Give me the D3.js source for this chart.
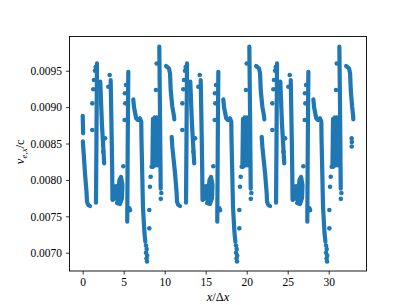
<!DOCTYPE html>
<html>
<head>
<meta charset="utf-8">
<script src="https://cdn.jsdelivr.net/npm/d3@7"></script>
<style>
body { margin: 0; background: #fff; }
svg text { font-family: "Liberation Serif", "Times New Roman", serif; fill: #000; }
</style>
</head>
<body>
<svg id="chart"></svg>
<script>
const width = 407;
const height = 305;

// tick values
const xTicks = [0, 5, 10, 15, 20, 25, 30];
const yTicks = [0.0070, 0.0075, 0.0080, 0.0085, 0.0090, 0.0095];

// dense runs of points as [x/dx, v/c] vertices.
// one array per repeat of the pattern (x ~ 0-11, 11-22, 22-33, 33-)
const run1 = [
  [[0.00,0.008880],[0.03,0.008760],[0.05,0.008640]],
  [[0.02,0.008530],[0.28,0.008091],[0.48,0.007816],[0.52,0.007700],[0.68,0.007655],[0.89,0.007641]],
  [[1.74,0.009600],[1.68,0.008600],[1.62,0.007687]],
  [[2.14,0.009350],[2.34,0.008777],[2.62,0.008228]],
  [[3.41,0.009372],[3.47,0.009001],[3.54,0.008548],[3.60,0.008095],[3.63,0.007724],[3.93,0.007751],[4.06,0.007916],[4.24,0.007724],[4.48,0.007999],[4.67,0.008041],[4.85,0.007930],[4.79,0.007751],[4.54,0.007669],[4.18,0.007683]],
  [[5.56,0.009486],[5.49,0.008500],[5.43,0.007426]],
  [[6.17,0.009107],[6.25,0.009005],[6.52,0.008846],[6.72,0.008823],[6.97,0.008846],[7.14,0.008800],[7.17,0.008548],[7.26,0.008091],[7.35,0.007628],[7.53,0.007271],[7.64,0.007150]],
  [[8.57,0.008840],[8.50,0.008220],[8.60,0.008180],[8.68,0.008780],[8.77,0.008860],[8.74,0.008250],[8.87,0.008200],[8.92,0.008800],[9.02,0.008860],[9.04,0.008300],[9.17,0.008200]],
  [[9.34,0.009830],[9.42,0.009000],[9.51,0.007880]]
];
const run2 = [
  [[10.16,0.009565],[10.52,0.009533],[10.65,0.009464],[10.73,0.009235],[10.93,0.009005],[11.13,0.008878],[11.17,0.008832]],
  [[10.85,0.008593],[10.93,0.008456],[11.26,0.008091],[11.46,0.007816],[11.50,0.007700],[11.66,0.007655],[11.87,0.007641]],
  [[12.72,0.009600],[12.66,0.008600],[12.60,0.007687]],
  [[13.12,0.009350],[13.32,0.008777],[13.60,0.008228]],
  [[14.39,0.009372],[14.45,0.009001],[14.52,0.008548],[14.58,0.008095],[14.61,0.007724],[14.91,0.007751],[15.04,0.007916],[15.22,0.007724],[15.46,0.007999],[15.65,0.008041],[15.83,0.007930],[15.77,0.007751],[15.52,0.007669],[15.16,0.007683]],
  [[16.54,0.009486],[16.47,0.008500],[16.41,0.007426]],
  [[17.15,0.009107],[17.23,0.009005],[17.50,0.008846],[17.70,0.008823],[17.95,0.008846],[18.12,0.008800],[18.15,0.008548],[18.24,0.008091],[18.33,0.007628],[18.51,0.007271],[18.62,0.007150]],
  [[19.55,0.008840],[19.48,0.008220],[19.58,0.008180],[19.66,0.008780],[19.75,0.008860],[19.72,0.008250],[19.85,0.008200],[19.90,0.008800],[20.00,0.008860],[20.02,0.008300],[20.15,0.008200]],
  [[20.32,0.009830],[20.40,0.009000],[20.49,0.007880]]
];
const run3 = [
  [[21.14,0.009565],[21.50,0.009533],[21.63,0.009464],[21.71,0.009235],[21.91,0.009005],[22.11,0.008878],[22.15,0.008832]],
  [[21.83,0.008593],[21.91,0.008456],[22.24,0.008091],[22.44,0.007816],[22.48,0.007700],[22.64,0.007655],[22.85,0.007641]],
  [[23.70,0.009600],[23.64,0.008600],[23.58,0.007687]],
  [[24.10,0.009350],[24.30,0.008777],[24.58,0.008228]],
  [[25.37,0.009372],[25.43,0.009001],[25.50,0.008548],[25.56,0.008095],[25.59,0.007724],[25.89,0.007751],[26.02,0.007916],[26.20,0.007724],[26.44,0.007999],[26.63,0.008041],[26.81,0.007930],[26.75,0.007751],[26.50,0.007669],[26.14,0.007683]],
  [[27.52,0.009486],[27.45,0.008500],[27.39,0.007426]],
  [[28.13,0.009107],[28.21,0.009005],[28.48,0.008846],[28.68,0.008823],[28.93,0.008846],[29.10,0.008800],[29.13,0.008548],[29.22,0.008091],[29.31,0.007628],[29.49,0.007271],[29.60,0.007150]],
  [[30.53,0.008840],[30.46,0.008220],[30.56,0.008180],[30.64,0.008780],[30.73,0.008860],[30.70,0.008250],[30.83,0.008200],[30.88,0.008800],[30.98,0.008860],[31.00,0.008300],[31.13,0.008200]],
  [[31.30,0.009830],[31.38,0.009000],[31.47,0.007880]]
];
const run4 = [
  [[32.12,0.009565],[32.48,0.009533],[32.61,0.009464],[32.69,0.009235],[32.86,0.009005],[32.98,0.008878],[33.00,0.008832]]
];

// isolated points
const dots1 = [
  [1.58,0.009550],[1.50,0.009500],[1.37,0.009372],[1.29,0.009245],[1.17,0.009052],[1.17,0.008685],
  [2.72,0.008571],[2.51,0.008387],[3.29,0.009441],[3.12,0.009280],
  [5.28,0.009304],[5.15,0.009190],[5.19,0.009052],[5.12,0.008823],[4.95,0.008188],[5.68,0.007611],[5.76,0.007584],
  [7.72,0.007100],[7.80,0.007050],[7.72,0.007000],[7.86,0.006960],[7.78,0.006920],[7.84,0.006880],
  [9.02,0.009600],[8.93,0.009235],[8.81,0.008823],[8.41,0.008181],[8.29,0.008044],[8.20,0.007907],[8.12,0.007587],[8.12,0.007335],
  [9.59,0.007820],[9.52,0.007740]
];
const dots2 = [
  [12.56,0.009550],[12.48,0.009500],[12.35,0.009372],[12.27,0.009245],[12.15,0.009052],[12.15,0.008685],
  [13.70,0.008571],[13.49,0.008387],[14.27,0.009441],[14.10,0.009280],
  [16.26,0.009304],[16.13,0.009190],[16.17,0.009052],[16.10,0.008823],[15.93,0.008188],[16.66,0.007611],[16.74,0.007584],
  [18.70,0.007100],[18.78,0.007050],[18.70,0.007000],[18.84,0.006960],[18.76,0.006920],[18.82,0.006880],
  [20.00,0.009600],[19.91,0.009235],[19.79,0.008823],[19.39,0.008181],[19.27,0.008044],[19.18,0.007907],[19.10,0.007587],[19.10,0.007335],
  [20.57,0.007820],[20.50,0.007740]
];
const dots3 = [
  [23.54,0.009550],[23.46,0.009500],[23.33,0.009372],[23.25,0.009245],[23.13,0.009052],[23.13,0.008685],
  [24.68,0.008571],[24.47,0.008387],[25.25,0.009441],[25.08,0.009280],
  [27.24,0.009304],[27.11,0.009190],[27.15,0.009052],[27.08,0.008823],[26.91,0.008188],[27.64,0.007611],[27.72,0.007584],
  [29.68,0.007100],[29.76,0.007050],[29.68,0.007000],[29.82,0.006960],[29.74,0.006920],[29.80,0.006880],
  [30.98,0.009600],[30.89,0.009235],[30.77,0.008823],[30.37,0.008181],[30.25,0.008044],[30.16,0.007907],[30.08,0.007587],[30.08,0.007335],
  [31.55,0.007820],[31.48,0.007740]
];
const dots4 = [[32.80,0.008570],[32.82,0.008520],[32.81,0.008460]];

const blue = "#1f77b4";
const plot = {left: 69.5, right: 366.5, top: 36.5, bottom: 271};

let svg = d3.select("#chart").attr("width", width).attr("height", height);
svg.append("rect").attr("width", width).attr("height", height).attr("fill", "#fff");

let xScale = d3.scaleLinear().domain([-1.61, 34.61]).range([plot.left, plot.right]);
let yScale = d3.scaleLinear().domain([0.006749, 0.00997]).range([plot.bottom, plot.top]);

let line = d3.line().x(d => xScale(d[0])).y(d => yScale(d[1]));

let runs = [].concat(run1, run2, run3, run4);
svg.append("g").selectAll("path")
  .data(runs)
  .join("path")
  .attr("d", line)
  .attr("fill", "none")
  .attr("stroke", blue)
  .attr("stroke-width", 4.2)
  .attr("stroke-linecap", "round")
  .attr("stroke-linejoin", "round");

let dots = [].concat(dots1, dots2, dots3, dots4);
svg.append("g").selectAll("circle")
  .data(dots)
  .join("circle")
  .attr("cx", d => xScale(d[0]))
  .attr("cy", d => yScale(d[1]))
  .attr("r", 2.3)
  .attr("fill", blue);

// axes
let xAxis = d3.axisBottom(xScale).tickValues(xTicks).tickFormat(d3.format("d"))
  .tickSizeInner(3.5).tickSizeOuter(0).tickPadding(3.5);
let gx = svg.append("g").attr("transform", `translate(0,${plot.bottom})`).call(xAxis);

let yAxis = d3.axisLeft(yScale).tickValues(yTicks).tickFormat(d3.format(".4f"))
  .tickSizeInner(3.5).tickSizeOuter(0).tickPadding(4);
let gy = svg.append("g").attr("transform", `translate(${plot.left},0)`).call(yAxis);

[gx, gy].forEach(g => {
  g.select(".domain").remove();
  g.selectAll(".tick line").attr("stroke", "#000").attr("stroke-width", 0.8);
  g.selectAll(".tick text").attr("font-size", 11.5).attr("font-family", "Liberation Serif");
});

svg.append("rect")
  .attr("x", plot.left).attr("y", plot.top)
  .attr("width", plot.right - plot.left).attr("height", plot.bottom - plot.top)
  .attr("fill", "none").attr("stroke", "#000").attr("stroke-width", 0.9);

// axis labels
let xl = svg.append("text")
  .attr("x", (plot.left + plot.right) / 2).attr("y", 300.5)
  .attr("text-anchor", "middle").attr("font-size", 12.5);
xl.append("tspan").attr("font-style", "italic").text("x");
xl.append("tspan").text("/Δ");
xl.append("tspan").attr("font-style", "italic").text("x");

let yl = svg.append("text")
  .attr("transform", `translate(24,${(plot.top + plot.bottom) / 2 - 2}) rotate(-90)`)
  .attr("text-anchor", "middle").attr("font-size", 12.5);
yl.append("tspan").attr("font-style", "italic").text("v");
yl.append("tspan").attr("font-style", "italic").attr("font-size", 9).attr("dy", 3).text("e,x");
yl.append("tspan").attr("dy", -3).text("/c");
</script>
</body>
</html>
